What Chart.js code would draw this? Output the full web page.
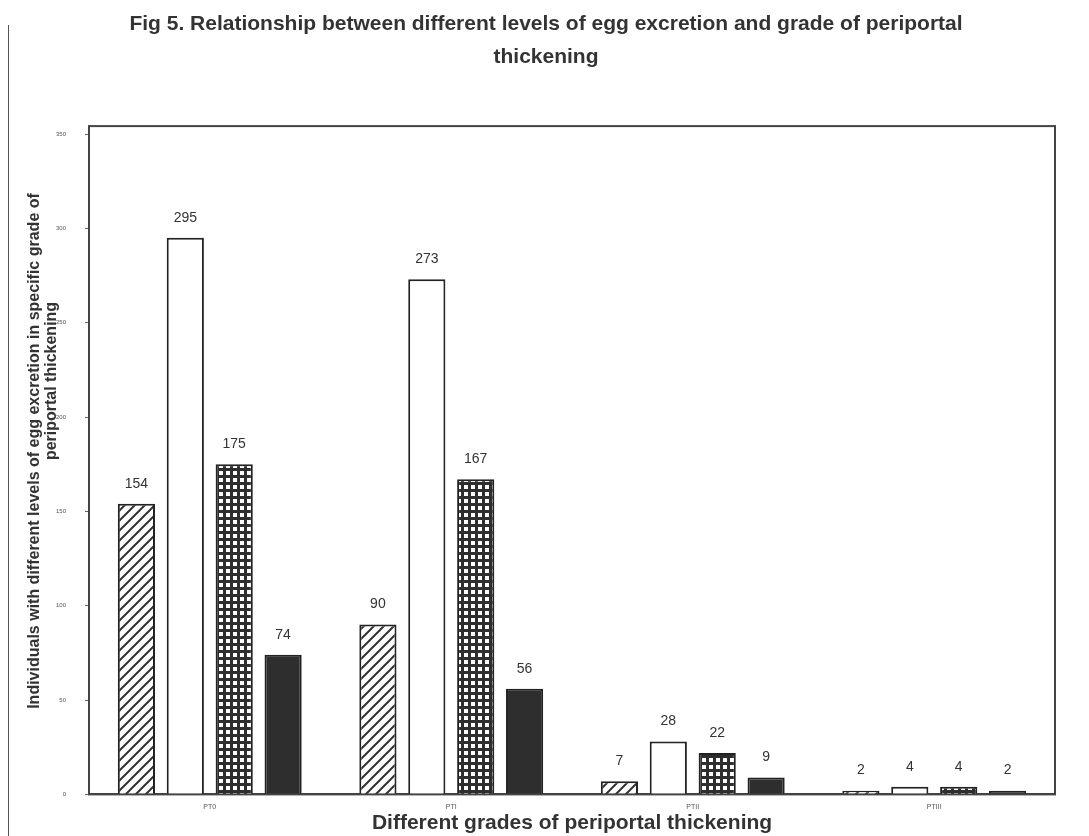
<!DOCTYPE html>
<html>
<head>
<meta charset="utf-8">
<script src="https://cdn.jsdelivr.net/npm/chart.js@4.4.1/dist/chart.umd.min.js"></script>
<style>
  html, body { margin: 0; padding: 0; background: #ffffff; }
  #wrap { position: relative; width: 1089px; height: 836px; }
  #scanline { position: absolute; left: 8px; top: 25px; width: 1px; height: 811px; background: #555; }
</style>
</head>
<body>
<div id="wrap">
  <div id="scanline"></div>
  <canvas id="c" width="1089" height="836"></canvas>
</div>
<script>
// ---- data ----
const categories = ["PT0", "PTI", "PTII", "PTIII"];
const seriesNames = ["Level 1", "Level 2", "Level 3", "Level 4"];
const level1 = [154, 90, 7, 2];
const level2 = [295, 273, 28, 4];
const level3 = [175, 167, 22, 4];
const level4 = [74, 56, 9, 2];
const yTicks = [0, 50, 100, 150, 200, 250, 300, 350];
const yTitleLines = ["Individuals with different levels of egg excretion in specific grade of", "periportal thickening"];

// ---- patterns ----
function hatchPattern() {
  const p = document.createElement('canvas');
  p.width = 10; p.height = 10;
  const g = p.getContext('2d');
  g.fillStyle = '#ffffff'; g.fillRect(0, 0, 10, 10);
  g.strokeStyle = '#333'; g.lineWidth = 2;
  g.beginPath();
  g.moveTo(0, 10); g.lineTo(10, 0);
  g.moveTo(-5, 5); g.lineTo(5, -5);
  g.moveTo(5, 15); g.lineTo(15, 5);
  g.stroke();
  return g.createPattern(p, 'repeat');
}
function checkPattern() {
  const p = document.createElement('canvas');
  p.width = 7; p.height = 7;
  const g = p.getContext('2d');
  g.fillStyle = '#2e2e2e'; g.fillRect(0, 0, 7, 7);
  g.fillStyle = '#ffffff';
  g.fillRect(2, 2, 4, 4);
  return g.createPattern(p, 'repeat');
}

const fills = [hatchPattern(), '#ffffff', checkPattern(), '#2e2e2e'];
const seriesData = [level1, level2, level3, level4];
const fontFam = '"Liberation Sans", Arial, sans-serif';

const labelPlugin = {
  id: 'barLabels',
  afterDatasetsDraw(chart) {
    const ctx = chart.ctx;
    ctx.save();
    ctx.font = '14px ' + fontFam;
    ctx.fillStyle = '#333';
    ctx.textAlign = 'center';
    ctx.textBaseline = 'bottom';
    chart.data.datasets.forEach((ds, i) => {
      chart.getDatasetMeta(i).data.forEach((bar, j) => {
        ctx.fillText(String(ds.data[j]), bar.x, bar.y - 13);
      });
    });
    ctx.restore();
  }
};

const framePlugin = {
  id: 'frame',
  afterDraw(chart) {
    const a = chart.chartArea;
    const ctx = chart.ctx;
    ctx.save();
    ctx.strokeStyle = '#444';
    ctx.lineWidth = 2;
    ctx.strokeRect(a.left, a.top - 8, a.right - a.left, a.bottom - a.top + 8);
    // y-axis title (two rotated lines)
    ctx.fillStyle = '#333';
    ctx.font = 'bold 16px ' + fontFam;
    ctx.textAlign = 'center';
    ctx.textBaseline = 'middle';
    const pos = [[35, 451], [52, 381]];
    yTitleLines.forEach((t, i) => {
      ctx.save();
      ctx.translate(pos[i][0], pos[i][1]);
      ctx.rotate(-Math.PI / 2);
      ctx.fillText(t, 0, 0);
      ctx.restore();
    });
    ctx.restore();
  }
};

new Chart(document.getElementById('c'), {
  type: 'bar',
  data: {
    labels: categories,
    datasets: seriesData.map((d, i) => ({
      label: seriesNames[i],
      data: d,
      backgroundColor: fills[i],
      borderColor: '#222',
      borderWidth: 2,
      categoryPercentage: 0.81,
      barPercentage: 0.76
    }))
  },
  options: {
    responsive: false,
    animation: false,
    layout: { padding: { left: 37, right: 34, top: 0, bottom: 0 } },
    plugins: {
      legend: { display: false },
      tooltip: { enabled: false },
      title: {
        display: true,
        text: ["Fig 5. Relationship between different levels of egg excretion and grade of periportal", "thickening"],
        font: { family: fontFam, size: 21, weight: 'bold', lineHeight: 1.55 },
        color: '#333',
        padding: { top: 8, bottom: 61 }
      }
    },
    scales: {
      x: {
        grid: { display: false },
        border: { display: true, color: '#444', width: 2 },
        ticks: { color: '#555', font: { size: 7 }, padding: 0 },
        title: {
          display: true,
          text: 'Different grades of periportal thickening',
          color: '#333',
          font: { family: fontFam, size: 21, weight: 'bold' },
          padding: { top: 0, bottom: 0 }
        }
      },
      y: {
        min: 0, max: 350,
        afterBuildTicks(axis) { axis.ticks = yTicks.map(v => ({ value: v })); },
        grid: { display: true, drawOnChartArea: false, drawTicks: true, tickLength: 4, color: '#666' },
        border: { display: true, color: '#444', width: 2 },
        ticks: { color: '#555', font: { size: 6 }, padding: 19 },
        title: { display: false }
      }
    }
  },
  plugins: [labelPlugin, framePlugin]
});
</script>
</body>
</html>
